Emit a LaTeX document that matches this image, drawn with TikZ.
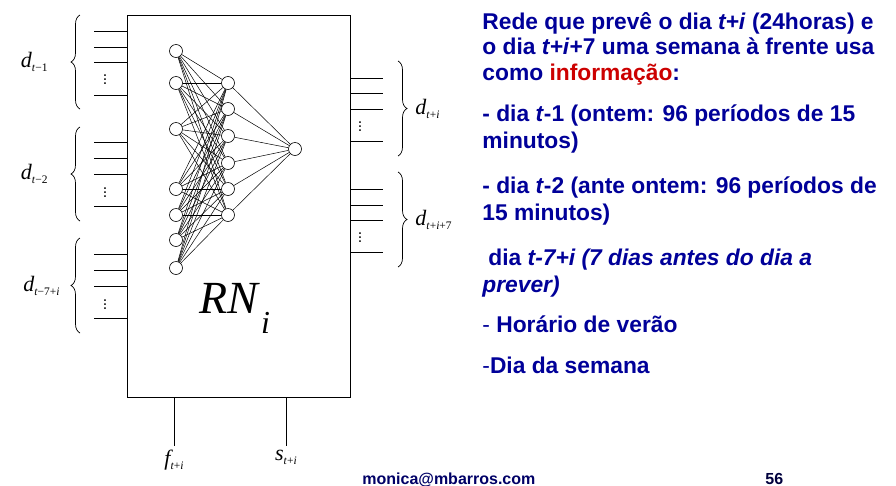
\documentclass[tikz,border=0pt]{standalone}
\usepackage{fontspec}
\setmainfont{Liberation Sans}
\newfontfamily\tms{Liberation Serif}
\usetikzlibrary{decorations.pathreplacing}
\definecolor{slideblue}{RGB}{0,0,153}
\definecolor{slidered}{RGB}{204,0,0}
\definecolor{footblue}{RGB}{0,0,102}
% variable with a subscript, as on the slide
\newcommand\vlab[2]{{\tms\itshape #1}\raisebox{-4pt}{\fontsize{11.5}{11.5}\selectfont\tms #2}}
\tikzset{
  neuron/.style={circle,draw,fill=white,inner sep=0pt,minimum size=13pt,line width=0.6pt},
  brc/.style={decorate,decoration={brace,amplitude=9pt},line width=0.7pt},
  lbl/.style={inner sep=1pt,font=\fontsize{22}{22}\selectfont},
  vdts/.style={inner sep=0pt,font=\fontsize{16}{16}\selectfont},
  info/.style={anchor=base west,inner sep=0pt,align=left,text=slideblue,
    font=\fontsize{22.8}{27}\selectfont\bfseries},
}
\begin{document}
\begin{tikzpicture}[x=1pt,y=-1pt,line width=0.8pt]
  \useasboundingbox (0,0) rectangle (896,485);
  % the network block
  \node[draw,line width=0.9pt,anchor=north west,inner sep=0pt,minimum width=223pt,minimum height=382pt] (rn) at (127,15) {};
  \node[anchor=base west,inner sep=0pt] (rnname) at (199,313) {\fontsize{46}{46}\selectfont\tms\itshape RN\kern3pt\raisebox{-20pt}{\fontsize{32}{32}\selectfont i}};
  % inputs
  \foreach \y in {31,47,62,95,142,158,174,206,254,270,286,318}
    \draw (rn.west |- 0,\y) -- ++(-33,0);
  \foreach \y in {77,190,302} \node[vdts] at (105,\y) {$\vdots$};
  \draw[brc] (80,109) -- node[lbl,left=31pt] (dm1) {\vlab{d}{\textit{t}−1}} (80,15);
  \draw[brc] (80,221) -- node[lbl,left=31pt] (dm2) {\vlab{d}{\textit{t}−2}} (80,127);
  \draw[brc] (80,333) -- node[lbl,left=19pt] (dm7) {\vlab{d}{\textit{t}−7+\textit{i}}} (80,238);
  % outputs
  \foreach \y in {78,93,109,141,189,205,220,252}
    \draw (rn.east |- 0,\y) -- ++(32,0);
  \foreach \y in {124,235} \node[vdts] at (360,\y) {$\vdots$};
  \draw[brc] (398,61) -- node[lbl,right=16pt] (dp) {\vlab{d}{\textit{t}+\textit{i}}} (398,156);
  \draw[brc] (398,172) -- node[lbl,right=16pt] (dp7) {\vlab{d}{\textit{t}+\textit{i}+7}} (398,267);
  % extra inputs below
  \draw (rn.south -| 174,0) -- ++(0,48) node[lbl,below=3pt] (f) {\vlab{f}{\textit{t}+\textit{i}}};
  \draw (rn.south -| 286,0) -- ++(0,48) node[lbl,below=3pt] (s) {\vlab{s}{\textit{t}+\textit{i}}};
  % layers
  \foreach \y [count=\k] in {51,83,129,189,215,240,268}
    \node[neuron] (i\k) at (176,\y) {};
  \foreach \y [count=\k] in {83,109,136,163,189,215}
    \node[neuron] (h\k) at (228,\y) {};
  \node[neuron] (o) at (295,149) {};
  \foreach \a in {1,...,7}
    \foreach \b in {1,...,6}
      \draw[line width=0.5pt] (i\a) -- (h\b);
  \foreach \b in {1,...,6} \draw[line width=0.5pt] (h\b) -- (o);
  % text (anchored on the last line)
  \node[info,font=\fontsize{22.8}{25.5}\selectfont\bfseries] (p1) at (482,80) {Rede que prevê o dia \textit{t+i} (24horas) e\\
    o dia \textit{t+i}+7 uma semana à frente usa\\
    como \textcolor{slidered}{informação}:};
  \node[info] (p2) at (482,148) {- dia \textit{t}-1 (ontem: 96 períodos de 15\\minutos)};
  \node[info] (p3) at (482,220) {- dia \textit{t}-2 (ante ontem: 96 períodos de\\15 minutos)};
  \node[info] (p4) at (482,292) {\hspace*{6pt}dia \textit{t-7+i (7 dias antes do dia a}\\\textit{prever)}};
  \node[info] (p5) at (482,332) {\mdseries-\bfseries{} Horário de verão};
  \node[info] (p6) at (482,373) {\mdseries-\bfseries Dia da semana};
  \node[anchor=base west,inner sep=0pt,text=footblue,font=\fontsize{16}{16}\selectfont\bfseries] (mail) at (362,484) {monica@mbarros.com};
  \node[anchor=base west,inner sep=0pt,text=footblue!60!black,font=\fontsize{16}{16}\selectfont\bfseries] (pg) at (765,484) {56};
\end{tikzpicture}
\end{document}
